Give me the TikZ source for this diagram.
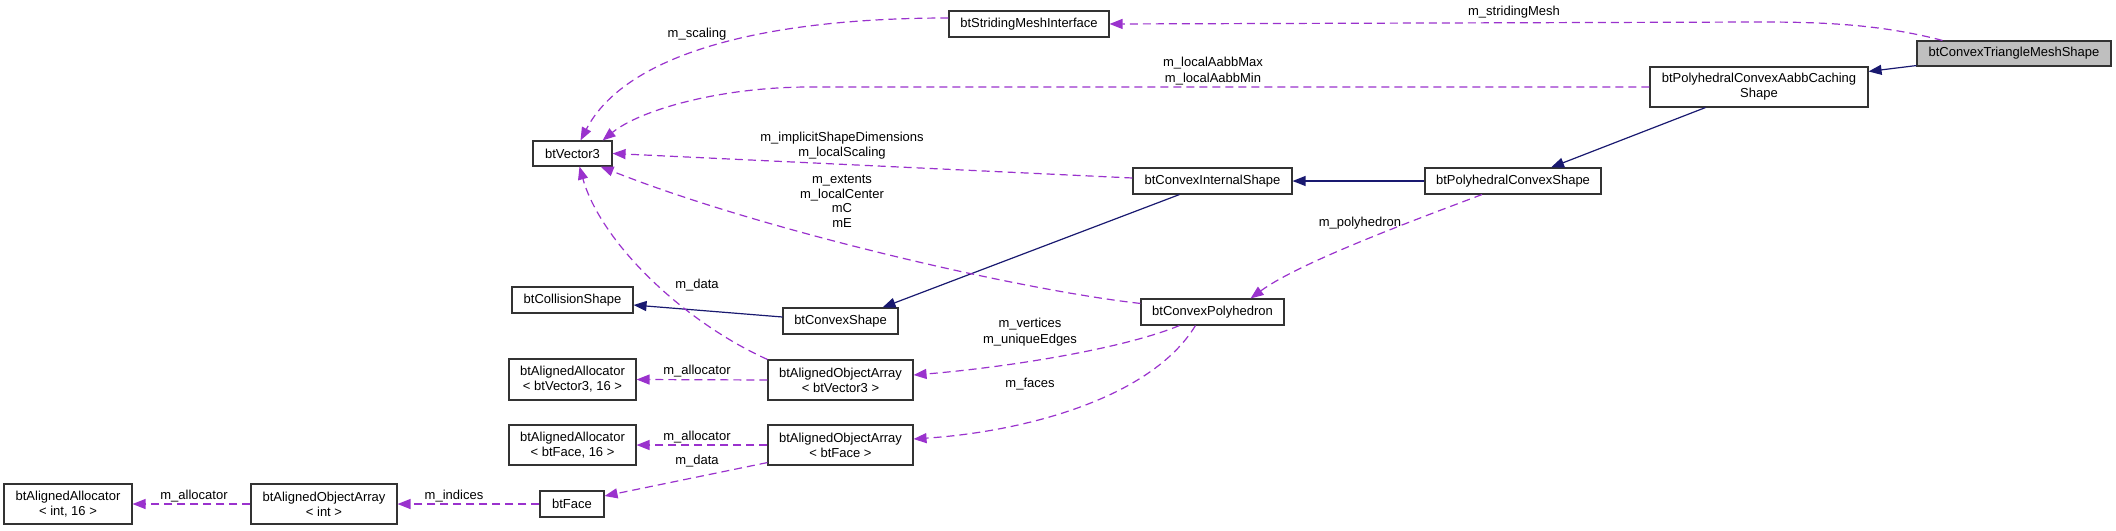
\documentclass[tikz,border=0pt]{standalone}
\usepackage{fontspec}
\setmainfont{Liberation Sans}
\usetikzlibrary{positioning,arrows.meta,calc}
\definecolor{inhcol}{RGB}{25,25,112}
\definecolor{usecol}{RGB}{154,50,205}
\definecolor{hlbg}{RGB}{191,191,191}
\tikzset{
  cls/.style={draw=black!80,line width=1.1pt,fill=white,align=center,inner sep=0pt,font=\fontsize{13}{15}\selectfont},
  hl/.style={cls,fill=hlbg},
  lbl/.style={align=center,inner sep=0pt,font=\fontsize{13}{15}\selectfont},
  inh/.style={-{Triangle[length=13pt,width=10pt]},inhcol,line width=1.2pt},
  use/.style={-{Triangle[length=13pt,width=10pt]},usecol,line width=1.2pt,dash pattern=on 8pt off 5pt},
}

\begin{document}
\begin{tikzpicture}[x=1pt,y=-1pt]
  \useasboundingbox (0,0) rectangle (2116,530);
  % classes
  \node[hl,minimum width=194pt,minimum height=25pt] (tri) at (2014,53.5) {btConvexTriangleMeshShape};
  \node[cls,minimum width=160pt,minimum height=26pt] (smi) at (1029,24) {btStridingMeshInterface};
  \node[cls,minimum width=218pt,minimum height=40pt] (aabb) at (1759,87) {btPolyhedralConvexAabbCaching\\Shape};
  \node[cls,minimum width=79pt,minimum height=25pt] (vec) at (572.5,153.5) {btVector3};
  \node[cls,minimum width=159pt,minimum height=26pt] (cis) at (1212.5,181) {btConvexInternalShape};
  \node[cls,minimum width=176pt,minimum height=26pt] (pcs) at (1513,181) {btPolyhedralConvexShape};
  \node[cls,minimum width=121pt,minimum height=26pt] (col) at (572.5,300) {btCollisionShape};
  \node[cls,minimum width=115pt,minimum height=26pt] (cvs) at (840.5,321) {btConvexShape};
  \node[cls,minimum width=143pt,minimum height=26pt] (poly) at (1212.5,312) {btConvexPolyhedron};
  \node[cls,minimum width=127pt,minimum height=41pt] (aav) at (572.5,379.5) {btAlignedAllocator\\< btVector3, 16 >};
  \node[cls,minimum width=145pt,minimum height=40pt] (oav) at (840.5,380) {btAlignedObjectArray\\< btVector3 >};
  \node[cls,minimum width=127pt,minimum height=40pt] (aaf) at (572.5,445) {btAlignedAllocator\\< btFace, 16 >};
  \node[cls,minimum width=145pt,minimum height=40pt] (oaf) at (840.5,445) {btAlignedObjectArray\\< btFace >};
  \node[cls,minimum width=64pt,minimum height=26pt] (face) at (572,504) {btFace};
  \node[cls,minimum width=146pt,minimum height=40pt] (oai) at (324,504) {btAlignedObjectArray\\< int >};
  \node[cls,minimum width=128pt,minimum height=40pt] (aai) at (68,504) {btAlignedAllocator\\< int, 16 >};

  % inheritance
  \draw[inh] ($(tri.south west)+(0,-1)$) -- ($(aabb.north east)+(0,5)$);
  \draw[inh] ($(aabb.south west)+(56,0)$) -- ($(pcs.north)+(38,0)$);
  \draw[inh] (pcs.west) -- (cis.east);
  \draw[inh] ($(cis.south west)+(47,0)$) -- ($(cvs.north)+(42,0)$);
  \draw[inh] ($(cvs.west)+(0,-4)$) -- ($(col.east)+(0,5)$);

  % members
  \draw[use] ($(tri.north west)+(26,0)$) .. controls (1880,24) and (1820,22) .. (1760,22) -- (smi.east);
  \draw[use] ($(smi.west)+(0,-6)$) .. controls (760,18) and (625,55) .. ($(vec.north)+(8,0)$);
  \draw[use] (aabb.west) -- (810,87) .. controls (720,87) and (640,110) .. ($(vec.north east)+(-10,0)$);
  \draw[use] ($(cis.west)+(0,-3)$) -- (vec.east);
  \draw[use] ($(poly.north west)+(0,5)$) .. controls (1020,290) and (760,230) .. ($(vec.south east)+(-12,0)$);
  \draw[use] ($(pcs.south)+(-31,0)$) .. controls (1420,218) and (1300,262) .. ($(poly.north)+(38,0)$);
  \draw[use] (oav.north west) .. controls (680,320) and (600,240) .. ($(vec.south)+(7,0)$);
  \draw[use] (oav.west) -- (aav.east);
  \draw[use] ($(poly.south west)+(39,0)$) .. controls (1120,350) and (1000,368) .. ($(oav.east)+(0,-5)$);
  \draw[use] ($(poly.south west)+(55,0)$) .. controls (1150,400) and (1020,432) .. ($(oaf.east)+(0,-6)$);
  \draw[use] (oaf.west) -- (aaf.east);
  \draw[use] ($(oaf.south west)+(0,-3)$) -- ($(face.east)+(0,-8)$);
  \draw[use] (face.west) -- (oai.east);
  \draw[use] (oai.west) -- (aai.east);

  % labels
  \node[lbl] (l1) at (1514,12) {m\_stridingMesh};
  \node[lbl] (l2) at (697,34) {m\_scaling};
  \node[lbl,font=\fontsize{13}{16}\selectfont] (l3) at (1213,71) {m\_localAabbMax\\m\_localAabbMin};
  \node[lbl] (l4) at (842,145.5) {m\_implicitShapeDimensions\\m\_localScaling};
  \node[lbl,font=\fontsize{13}{14.5}\selectfont] (l5) at (842,201.5) {m\_extents\\m\_localCenter\\mC\\mE};
  \node[lbl] (l6) at (1360,223) {m\_polyhedron};
  \node[lbl] (l7) at (697,285) {m\_data};
  \node[lbl] (l8) at (697,371) {m\_allocator};
  \node[lbl,font=\fontsize{13}{16}\selectfont] (l9) at (1030,332) {m\_vertices\\m\_uniqueEdges};
  \node[lbl] (l10) at (1030,384) {m\_faces};
  \node[lbl] (l11) at (697,437) {m\_allocator};
  \node[lbl] (l12) at (697,461) {m\_data};
  \node[lbl] (l13) at (454,496) {m\_indices};
  \node[lbl] (l14) at (194,496) {m\_allocator};
\end{tikzpicture}
\end{document}
